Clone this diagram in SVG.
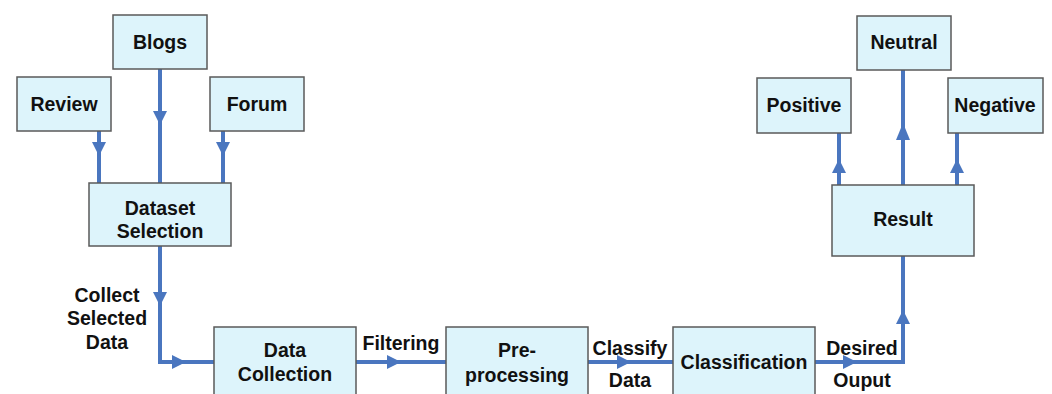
<svg xmlns="http://www.w3.org/2000/svg" width="1052" height="394" viewBox="0 0 1052 394">
<defs>
<style>
.box{fill:#ddf4fb;stroke:#5a5a5a;stroke-width:1.5}
.t{font-family:"Liberation Sans",Arial,sans-serif;font-weight:bold;font-size:19.5px;fill:#111111;text-anchor:middle}
.c{fill:none;stroke:#4a76bf;stroke-width:4}
.ah{fill:#4a76bf}
</style>
</defs>
<rect width="1052" height="394" fill="#ffffff"/>
<g id="connectors">
<path class="c" d="M99,131V183"/><path class="ah" d="M92,142H106L99,156Z"/>
<path class="c" d="M160,69V183"/><path class="ah" d="M153,111H167L160,125Z"/>
<path class="c" d="M223,131V183"/><path class="ah" d="M216,142H230L223,156Z"/>
<path class="c" d="M160,246V362H214"/><path class="ah" d="M153,292H167L160,306Z"/><path class="ah" d="M172,355V369L186,362Z"/>
<path class="c" d="M356,362H447"/><path class="ah" d="M387,355V369L401,362Z"/>
<path class="c" d="M588,362H673"/><path class="ah" d="M617,355V369L631,362Z"/>
<path class="c" d="M815,362H903V256"/><path class="ah" d="M843,355V369L857,362Z"/><path class="ah" d="M896,324H910L903,310Z"/>
<path class="c" d="M839,185V133"/><path class="ah" d="M832,173H846L839,159Z"/>
<path class="c" d="M903,185V70"/><path class="ah" d="M896,140H910L903,123Z"/>
<path class="c" d="M957,185V133"/><path class="ah" d="M950,173H964L957,159Z"/>
<text class="t" x="107" y="302">Collect</text>
<text class="t" x="107" y="325">Selected</text>
<text class="t" x="107" y="349">Data</text>
<text class="t" x="401" y="350">Filtering</text>
<text class="t" x="630" y="355">Classify</text>
<text class="t" x="630" y="387">Data</text>
<text class="t" x="862" y="355">Desired</text>
<text class="t" x="862" y="387">Ouput</text>
</g>
<g id="blogs"><rect class="box" x="113" y="15" width="94" height="54"/><text class="t" x="160" y="49">Blogs</text></g>
<g id="review"><rect class="box" x="17" y="77" width="94" height="54"/><text class="t" x="64" y="111">Review</text></g>
<g id="forum"><rect class="box" x="210" y="77" width="94" height="54"/><text class="t" x="257" y="111">Forum</text></g>
<g id="dataset"><rect class="box" x="89" y="183" width="142" height="63"/><text class="t" x="160" y="215">Dataset</text><text class="t" x="160" y="238">Selection</text></g>
<g id="datacollection"><rect class="box" x="214" y="327" width="142" height="75"/><text class="t" x="285" y="357">Data</text><text class="t" x="285" y="381">Collection</text></g>
<g id="preprocessing"><rect class="box" x="446" y="327" width="142" height="75"/><text class="t" x="517" y="357">Pre-</text><text class="t" x="517" y="382">processing</text></g>
<g id="classification"><rect class="box" x="673" y="327" width="142" height="75"/><text class="t" x="744" y="369">Classification</text></g>
<g id="result"><rect class="box" x="832" y="185" width="142" height="71"/><text class="t" x="903" y="226">Result</text></g>
<g id="positive"><rect class="box" x="757" y="78" width="94" height="55"/><text class="t" x="804" y="112">Positive</text></g>
<g id="neutral"><rect class="box" x="857" y="16" width="94" height="54"/><text class="t" x="904" y="49">Neutral</text></g>
<g id="negative"><rect class="box" x="948" y="78" width="95" height="55"/><text class="t" x="995" y="112">Negative</text></g>
</svg>
